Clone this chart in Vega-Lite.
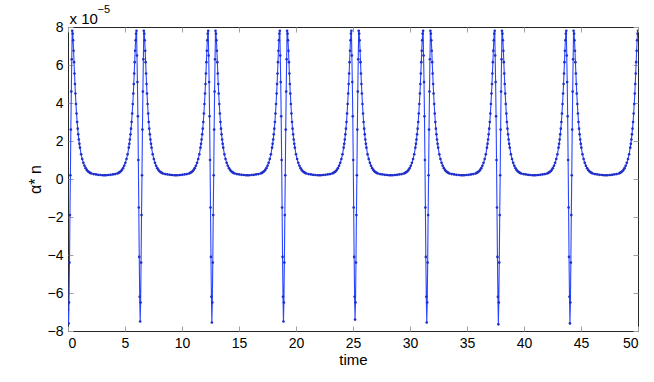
{
"$schema": "https://vega.github.io/schema/vega-lite/v6.json",
"width": 570, "height": 304,
"autosize": "none",
"padding": {"left": 68, "top": 27, "right": 16, "bottom": 51},
"background": "white",
"config": {"view": {"stroke": "#262626", "strokeWidth": 1}, "font": "Liberation Sans"},
"data": {"values": [
{"t":0,"a":-6.9},{"t":0.05,"a":-7.6},{"t":0.09,"a":-6.5},{"t":0.13,"a":-4.4},{"t":0.17,"a":-1.9},{"t":0.21,"a":0.2},{"t":0.25,"a":2.6},{"t":0.29,"a":4.6},{"t":0.33,"a":6.3},{"t":0.37,"a":7.8},{"t":0.41,"a":7.65},{"t":0.45,"a":7.3},{"t":0.49,"a":6.75},{"t":0.53,"a":6.15},{"t":0.57,"a":5.55},{"t":0.61,"a":5.0},{"t":0.65,"a":4.5},{"t":0.70,"a":3.95},{"t":0.75,"a":3.45},{"t":0.80,"a":3.0},{"t":0.85,"a":2.65},{"t":0.90,"a":2.35},{"t":0.95,"a":2.08},{"t":1.00,"a":1.85},{"t":1.05,"a":1.65},{"t":1.15,"a":1.3},{"t":1.25,"a":1.05},{"t":1.35,"a":0.85},{"t":1.45,"a":0.7},{"t":1.55,"a":0.57},{"t":1.65,"a":0.48},{"t":1.75,"a":0.41},{"t":1.85,"a":0.36},{"t":1.95,"a":0.32},{"t":2.05,"a":0.29},{"t":2.25,"a":0.26},{"t":2.45,"a":0.24},{"t":2.65,"a":0.22},{"t":2.85,"a":0.21},{"t":3.05,"a":0.2},{"t":3.19,"a":0.2},
{"t":3.33,"a":0.2},{"t":3.53,"a":0.21},{"t":3.73,"a":0.22},{"t":3.93,"a":0.24},{"t":4.13,"a":0.26},{"t":4.33,"a":0.29},{"t":4.43,"a":0.32},{"t":4.53,"a":0.36},{"t":4.63,"a":0.41},{"t":4.73,"a":0.48},{"t":4.83,"a":0.57},{"t":4.93,"a":0.7},{"t":5.03,"a":0.85},{"t":5.13,"a":1.05},{"t":5.23,"a":1.3},{"t":5.33,"a":1.65},{"t":5.38,"a":1.85},{"t":5.43,"a":2.08},{"t":5.48,"a":2.35},{"t":5.53,"a":2.65},{"t":5.58,"a":3.0},{"t":5.63,"a":3.45},{"t":5.68,"a":3.95},{"t":5.73,"a":4.5},{"t":5.77,"a":5.0},{"t":5.81,"a":5.55},{"t":5.85,"a":6.15},{"t":5.89,"a":6.75},{"t":5.93,"a":7.3},{"t":5.97,"a":7.65},{"t":6.01,"a":7.8},{"t":6.05,"a":6.5},{"t":6.09,"a":5.1},{"t":6.13,"a":3.3},{"t":6.17,"a":1.0},{"t":6.21,"a":-1.5},{"t":6.25,"a":-4.1},{"t":6.29,"a":-6.2},
{"t":6.33,"a":-7.5},{"t":6.37,"a":-6.5},{"t":6.41,"a":-4.4},{"t":6.45,"a":-1.9},{"t":6.49,"a":0.2},{"t":6.53,"a":2.6},{"t":6.57,"a":4.6},{"t":6.61,"a":6.3},{"t":6.65,"a":7.8},{"t":6.69,"a":7.65},{"t":6.73,"a":7.3},{"t":6.77,"a":6.75},{"t":6.81,"a":6.15},{"t":6.85,"a":5.55},{"t":6.89,"a":5.0},{"t":6.93,"a":4.5},{"t":6.98,"a":3.95},{"t":7.03,"a":3.45},{"t":7.08,"a":3.0},{"t":7.13,"a":2.65},{"t":7.18,"a":2.35},{"t":7.23,"a":2.08},{"t":7.28,"a":1.85},{"t":7.33,"a":1.65},{"t":7.43,"a":1.3},{"t":7.53,"a":1.05},{"t":7.63,"a":0.85},{"t":7.73,"a":0.7},{"t":7.83,"a":0.57},{"t":7.93,"a":0.48},{"t":8.03,"a":0.41},{"t":8.13,"a":0.36},{"t":8.23,"a":0.32},{"t":8.33,"a":0.29},{"t":8.53,"a":0.26},{"t":8.73,"a":0.24},{"t":8.93,"a":0.22},{"t":9.13,"a":0.21},{"t":9.33,"a":0.2},{"t":9.47,"a":0.2},
{"t":9.62,"a":0.2},{"t":9.82,"a":0.21},{"t":10.02,"a":0.22},{"t":10.22,"a":0.24},{"t":10.42,"a":0.26},{"t":10.62,"a":0.29},{"t":10.72,"a":0.32},{"t":10.82,"a":0.36},{"t":10.92,"a":0.41},{"t":11.02,"a":0.48},{"t":11.12,"a":0.57},{"t":11.22,"a":0.7},{"t":11.32,"a":0.85},{"t":11.42,"a":1.05},{"t":11.52,"a":1.3},{"t":11.62,"a":1.65},{"t":11.67,"a":1.85},{"t":11.72,"a":2.08},{"t":11.77,"a":2.35},{"t":11.82,"a":2.65},{"t":11.87,"a":3.0},{"t":11.92,"a":3.45},{"t":11.97,"a":3.95},{"t":12.02,"a":4.5},{"t":12.06,"a":5.0},{"t":12.10,"a":5.55},{"t":12.14,"a":6.15},{"t":12.18,"a":6.75},{"t":12.22,"a":7.3},{"t":12.26,"a":7.65},{"t":12.30,"a":7.8},{"t":12.34,"a":6.5},{"t":12.38,"a":5.1},{"t":12.42,"a":3.3},{"t":12.46,"a":1.0},{"t":12.50,"a":-1.5},{"t":12.54,"a":-4.1},{"t":12.58,"a":-6.2},
{"t":12.62,"a":-7.55},{"t":12.66,"a":-6.5},{"t":12.70,"a":-4.4},{"t":12.74,"a":-1.9},{"t":12.78,"a":0.2},{"t":12.82,"a":2.6},{"t":12.86,"a":4.6},{"t":12.90,"a":6.3},{"t":12.94,"a":7.8},{"t":12.98,"a":7.65},{"t":13.02,"a":7.3},{"t":13.06,"a":6.75},{"t":13.10,"a":6.15},{"t":13.14,"a":5.55},{"t":13.18,"a":5.0},{"t":13.22,"a":4.5},{"t":13.27,"a":3.95},{"t":13.32,"a":3.45},{"t":13.37,"a":3.0},{"t":13.42,"a":2.65},{"t":13.47,"a":2.35},{"t":13.52,"a":2.08},{"t":13.57,"a":1.85},{"t":13.62,"a":1.65},{"t":13.72,"a":1.3},{"t":13.82,"a":1.05},{"t":13.92,"a":0.85},{"t":14.02,"a":0.7},{"t":14.12,"a":0.57},{"t":14.22,"a":0.48},{"t":14.32,"a":0.41},{"t":14.42,"a":0.36},{"t":14.52,"a":0.32},{"t":14.62,"a":0.29},{"t":14.82,"a":0.26},{"t":15.02,"a":0.24},{"t":15.22,"a":0.22},{"t":15.42,"a":0.21},{"t":15.62,"a":0.2},{"t":15.76,"a":0.2},
{"t":15.90,"a":0.2},{"t":16.10,"a":0.21},{"t":16.30,"a":0.22},{"t":16.50,"a":0.24},{"t":16.70,"a":0.26},{"t":16.90,"a":0.29},{"t":17.00,"a":0.32},{"t":17.10,"a":0.36},{"t":17.20,"a":0.41},{"t":17.30,"a":0.48},{"t":17.40,"a":0.57},{"t":17.50,"a":0.7},{"t":17.60,"a":0.85},{"t":17.70,"a":1.05},{"t":17.80,"a":1.3},{"t":17.90,"a":1.65},{"t":17.95,"a":1.85},{"t":18.00,"a":2.08},{"t":18.05,"a":2.35},{"t":18.10,"a":2.65},{"t":18.15,"a":3.0},{"t":18.20,"a":3.45},{"t":18.25,"a":3.95},{"t":18.30,"a":4.5},{"t":18.34,"a":5.0},{"t":18.38,"a":5.55},{"t":18.42,"a":6.15},{"t":18.46,"a":6.75},{"t":18.50,"a":7.3},{"t":18.54,"a":7.65},{"t":18.58,"a":7.8},{"t":18.62,"a":6.5},{"t":18.66,"a":5.1},{"t":18.70,"a":3.3},{"t":18.74,"a":1.0},{"t":18.78,"a":-1.5},{"t":18.82,"a":-4.1},{"t":18.86,"a":-6.2},
{"t":18.90,"a":-7.5},{"t":18.94,"a":-6.5},{"t":18.98,"a":-4.4},{"t":19.02,"a":-1.9},{"t":19.06,"a":0.2},{"t":19.10,"a":2.6},{"t":19.14,"a":4.6},{"t":19.18,"a":6.3},{"t":19.22,"a":7.8},{"t":19.26,"a":7.65},{"t":19.30,"a":7.3},{"t":19.34,"a":6.75},{"t":19.38,"a":6.15},{"t":19.42,"a":5.55},{"t":19.46,"a":5.0},{"t":19.50,"a":4.5},{"t":19.55,"a":3.95},{"t":19.60,"a":3.45},{"t":19.65,"a":3.0},{"t":19.70,"a":2.65},{"t":19.75,"a":2.35},{"t":19.80,"a":2.08},{"t":19.85,"a":1.85},{"t":19.90,"a":1.65},{"t":20.00,"a":1.3},{"t":20.10,"a":1.05},{"t":20.20,"a":0.85},{"t":20.30,"a":0.7},{"t":20.40,"a":0.57},{"t":20.50,"a":0.48},{"t":20.60,"a":0.41},{"t":20.70,"a":0.36},{"t":20.80,"a":0.32},{"t":20.90,"a":0.29},{"t":21.10,"a":0.26},{"t":21.30,"a":0.24},{"t":21.50,"a":0.22},{"t":21.70,"a":0.21},{"t":21.90,"a":0.2},{"t":22.04,"a":0.2},
{"t":22.18,"a":0.2},{"t":22.38,"a":0.21},{"t":22.58,"a":0.22},{"t":22.78,"a":0.24},{"t":22.98,"a":0.26},{"t":23.18,"a":0.29},{"t":23.28,"a":0.32},{"t":23.38,"a":0.36},{"t":23.48,"a":0.41},{"t":23.58,"a":0.48},{"t":23.68,"a":0.57},{"t":23.78,"a":0.7},{"t":23.88,"a":0.85},{"t":23.98,"a":1.05},{"t":24.08,"a":1.3},{"t":24.18,"a":1.65},{"t":24.23,"a":1.85},{"t":24.28,"a":2.08},{"t":24.33,"a":2.35},{"t":24.38,"a":2.65},{"t":24.43,"a":3.0},{"t":24.48,"a":3.45},{"t":24.53,"a":3.95},{"t":24.58,"a":4.5},{"t":24.62,"a":5.0},{"t":24.66,"a":5.55},{"t":24.70,"a":6.15},{"t":24.74,"a":6.75},{"t":24.78,"a":7.3},{"t":24.82,"a":7.65},{"t":24.86,"a":7.8},{"t":24.90,"a":6.5},{"t":24.94,"a":5.1},{"t":24.98,"a":3.3},{"t":25.02,"a":1.0},{"t":25.06,"a":-1.5},{"t":25.10,"a":-4.1},{"t":25.14,"a":-6.2},
{"t":25.18,"a":-7.4},{"t":25.22,"a":-6.5},{"t":25.26,"a":-4.4},{"t":25.30,"a":-1.9},{"t":25.34,"a":0.2},{"t":25.38,"a":2.6},{"t":25.42,"a":4.6},{"t":25.46,"a":6.3},{"t":25.50,"a":7.8},{"t":25.54,"a":7.65},{"t":25.58,"a":7.3},{"t":25.62,"a":6.75},{"t":25.66,"a":6.15},{"t":25.70,"a":5.55},{"t":25.74,"a":5.0},{"t":25.78,"a":4.5},{"t":25.83,"a":3.95},{"t":25.88,"a":3.45},{"t":25.93,"a":3.0},{"t":25.98,"a":2.65},{"t":26.03,"a":2.35},{"t":26.08,"a":2.08},{"t":26.13,"a":1.85},{"t":26.18,"a":1.65},{"t":26.28,"a":1.3},{"t":26.38,"a":1.05},{"t":26.48,"a":0.85},{"t":26.58,"a":0.7},{"t":26.68,"a":0.57},{"t":26.78,"a":0.48},{"t":26.88,"a":0.41},{"t":26.98,"a":0.36},{"t":27.08,"a":0.32},{"t":27.18,"a":0.29},{"t":27.38,"a":0.26},{"t":27.58,"a":0.24},{"t":27.78,"a":0.22},{"t":27.98,"a":0.21},{"t":28.18,"a":0.2},{"t":28.32,"a":0.2},
{"t":28.47,"a":0.2},{"t":28.67,"a":0.21},{"t":28.87,"a":0.22},{"t":29.07,"a":0.24},{"t":29.27,"a":0.26},{"t":29.47,"a":0.29},{"t":29.57,"a":0.32},{"t":29.67,"a":0.36},{"t":29.77,"a":0.41},{"t":29.87,"a":0.48},{"t":29.97,"a":0.57},{"t":30.07,"a":0.7},{"t":30.17,"a":0.85},{"t":30.27,"a":1.05},{"t":30.37,"a":1.3},{"t":30.47,"a":1.65},{"t":30.52,"a":1.85},{"t":30.57,"a":2.08},{"t":30.62,"a":2.35},{"t":30.67,"a":2.65},{"t":30.72,"a":3.0},{"t":30.77,"a":3.45},{"t":30.82,"a":3.95},{"t":30.87,"a":4.5},{"t":30.91,"a":5.0},{"t":30.95,"a":5.55},{"t":30.99,"a":6.15},{"t":31.03,"a":6.75},{"t":31.07,"a":7.3},{"t":31.11,"a":7.65},{"t":31.15,"a":7.8},{"t":31.19,"a":6.5},{"t":31.23,"a":5.1},{"t":31.27,"a":3.3},{"t":31.31,"a":1.0},{"t":31.35,"a":-1.5},{"t":31.39,"a":-4.1},{"t":31.43,"a":-6.2},
{"t":31.47,"a":-7.55},{"t":31.51,"a":-6.5},{"t":31.55,"a":-4.4},{"t":31.59,"a":-1.9},{"t":31.63,"a":0.2},{"t":31.67,"a":2.6},{"t":31.71,"a":4.6},{"t":31.75,"a":6.3},{"t":31.79,"a":7.8},{"t":31.83,"a":7.65},{"t":31.87,"a":7.3},{"t":31.91,"a":6.75},{"t":31.95,"a":6.15},{"t":31.99,"a":5.55},{"t":32.03,"a":5.0},{"t":32.07,"a":4.5},{"t":32.12,"a":3.95},{"t":32.17,"a":3.45},{"t":32.22,"a":3.0},{"t":32.27,"a":2.65},{"t":32.32,"a":2.35},{"t":32.37,"a":2.08},{"t":32.42,"a":1.85},{"t":32.47,"a":1.65},{"t":32.57,"a":1.3},{"t":32.67,"a":1.05},{"t":32.77,"a":0.85},{"t":32.87,"a":0.7},{"t":32.97,"a":0.57},{"t":33.07,"a":0.48},{"t":33.17,"a":0.41},{"t":33.27,"a":0.36},{"t":33.37,"a":0.32},{"t":33.47,"a":0.29},{"t":33.67,"a":0.26},{"t":33.87,"a":0.24},{"t":34.07,"a":0.22},{"t":34.27,"a":0.21},{"t":34.47,"a":0.2},{"t":34.61,"a":0.2},
{"t":34.75,"a":0.2},{"t":34.95,"a":0.21},{"t":35.15,"a":0.22},{"t":35.35,"a":0.24},{"t":35.55,"a":0.26},{"t":35.75,"a":0.29},{"t":35.85,"a":0.32},{"t":35.95,"a":0.36},{"t":36.05,"a":0.41},{"t":36.15,"a":0.48},{"t":36.25,"a":0.57},{"t":36.35,"a":0.7},{"t":36.45,"a":0.85},{"t":36.55,"a":1.05},{"t":36.65,"a":1.3},{"t":36.75,"a":1.65},{"t":36.80,"a":1.85},{"t":36.85,"a":2.08},{"t":36.90,"a":2.35},{"t":36.95,"a":2.65},{"t":37.00,"a":3.0},{"t":37.05,"a":3.45},{"t":37.10,"a":3.95},{"t":37.15,"a":4.5},{"t":37.19,"a":5.0},{"t":37.23,"a":5.55},{"t":37.27,"a":6.15},{"t":37.31,"a":6.75},{"t":37.35,"a":7.3},{"t":37.39,"a":7.65},{"t":37.43,"a":7.8},{"t":37.47,"a":6.5},{"t":37.51,"a":5.1},{"t":37.55,"a":3.3},{"t":37.59,"a":1.0},{"t":37.63,"a":-1.5},{"t":37.67,"a":-4.1},{"t":37.71,"a":-6.2},
{"t":37.75,"a":-7.65},{"t":37.79,"a":-6.5},{"t":37.83,"a":-4.4},{"t":37.87,"a":-1.9},{"t":37.91,"a":0.2},{"t":37.95,"a":2.6},{"t":37.99,"a":4.6},{"t":38.03,"a":6.3},{"t":38.07,"a":7.8},{"t":38.11,"a":7.65},{"t":38.15,"a":7.3},{"t":38.19,"a":6.75},{"t":38.23,"a":6.15},{"t":38.27,"a":5.55},{"t":38.31,"a":5.0},{"t":38.35,"a":4.5},{"t":38.40,"a":3.95},{"t":38.45,"a":3.45},{"t":38.50,"a":3.0},{"t":38.55,"a":2.65},{"t":38.60,"a":2.35},{"t":38.65,"a":2.08},{"t":38.70,"a":1.85},{"t":38.75,"a":1.65},{"t":38.85,"a":1.3},{"t":38.95,"a":1.05},{"t":39.05,"a":0.85},{"t":39.15,"a":0.7},{"t":39.25,"a":0.57},{"t":39.35,"a":0.48},{"t":39.45,"a":0.41},{"t":39.55,"a":0.36},{"t":39.65,"a":0.32},{"t":39.75,"a":0.29},{"t":39.95,"a":0.26},{"t":40.15,"a":0.24},{"t":40.35,"a":0.22},{"t":40.55,"a":0.21},{"t":40.75,"a":0.2},{"t":40.89,"a":0.2},
{"t":41.03,"a":0.2},{"t":41.23,"a":0.21},{"t":41.43,"a":0.22},{"t":41.63,"a":0.24},{"t":41.83,"a":0.26},{"t":42.03,"a":0.29},{"t":42.13,"a":0.32},{"t":42.23,"a":0.36},{"t":42.33,"a":0.41},{"t":42.43,"a":0.48},{"t":42.53,"a":0.57},{"t":42.63,"a":0.7},{"t":42.73,"a":0.85},{"t":42.83,"a":1.05},{"t":42.93,"a":1.3},{"t":43.03,"a":1.65},{"t":43.08,"a":1.85},{"t":43.13,"a":2.08},{"t":43.18,"a":2.35},{"t":43.23,"a":2.65},{"t":43.28,"a":3.0},{"t":43.33,"a":3.45},{"t":43.38,"a":3.95},{"t":43.43,"a":4.5},{"t":43.47,"a":5.0},{"t":43.51,"a":5.55},{"t":43.55,"a":6.15},{"t":43.59,"a":6.75},{"t":43.63,"a":7.3},{"t":43.67,"a":7.65},{"t":43.71,"a":7.8},{"t":43.75,"a":6.5},{"t":43.79,"a":5.1},{"t":43.83,"a":3.3},{"t":43.87,"a":1.0},{"t":43.91,"a":-1.5},{"t":43.95,"a":-4.1},{"t":43.99,"a":-6.2},
{"t":44.03,"a":-7.6},{"t":44.07,"a":-6.5},{"t":44.11,"a":-4.4},{"t":44.15,"a":-1.9},{"t":44.19,"a":0.2},{"t":44.23,"a":2.6},{"t":44.27,"a":4.6},{"t":44.31,"a":6.3},{"t":44.35,"a":7.8},{"t":44.39,"a":7.65},{"t":44.43,"a":7.3},{"t":44.47,"a":6.75},{"t":44.51,"a":6.15},{"t":44.55,"a":5.55},{"t":44.59,"a":5.0},{"t":44.63,"a":4.5},{"t":44.68,"a":3.95},{"t":44.73,"a":3.45},{"t":44.78,"a":3.0},{"t":44.83,"a":2.65},{"t":44.88,"a":2.35},{"t":44.93,"a":2.08},{"t":44.98,"a":1.85},{"t":45.03,"a":1.65},{"t":45.13,"a":1.3},{"t":45.23,"a":1.05},{"t":45.33,"a":0.85},{"t":45.43,"a":0.7},{"t":45.53,"a":0.57},{"t":45.63,"a":0.48},{"t":45.73,"a":0.41},{"t":45.83,"a":0.36},{"t":45.93,"a":0.32},{"t":46.03,"a":0.29},{"t":46.23,"a":0.26},{"t":46.43,"a":0.24},{"t":46.63,"a":0.22},{"t":46.83,"a":0.21},{"t":47.03,"a":0.2},{"t":47.17,"a":0.2},
{"t":47.32,"a":0.2},{"t":47.52,"a":0.21},{"t":47.72,"a":0.22},{"t":47.92,"a":0.24},{"t":48.12,"a":0.26},{"t":48.32,"a":0.29},{"t":48.42,"a":0.32},{"t":48.52,"a":0.36},{"t":48.62,"a":0.41},{"t":48.72,"a":0.48},{"t":48.82,"a":0.57},{"t":48.92,"a":0.7},{"t":49.02,"a":0.85},{"t":49.12,"a":1.05},{"t":49.22,"a":1.3},{"t":49.32,"a":1.65},{"t":49.37,"a":1.85},{"t":49.42,"a":2.08},{"t":49.47,"a":2.35},{"t":49.52,"a":2.65},{"t":49.57,"a":3.0},{"t":49.62,"a":3.45},{"t":49.67,"a":3.95},{"t":49.72,"a":4.5},{"t":49.76,"a":5.0},{"t":49.80,"a":5.55},{"t":49.84,"a":6.15},{"t":49.88,"a":6.75},{"t":49.92,"a":7.3},{"t":49.96,"a":7.65},{"t":50.00,"a":7.8}
]},
"layer": [
{"mark": {"type": "line", "color": "#2a45ff", "strokeWidth": 1.1, "clip": true},
 "encoding": {
  "x": {"field": "t", "type": "quantitative", "scale": {"domain": [0, 50], "nice": false, "zero": false},
   "axis": {"orient": "bottom", "values": [0,5,10,15,20,25,30,35,40,45,50], "title": "time", "grid": false, "domain": false,
    "tickSize": -5, "tickColor": "#a0a0a0", "labelFontSize": 14, "labelColor": "black", "labelPadding": 10, "labelFont": "Liberation Sans",
    "titleFontSize": 15, "titleFontWeight": "normal", "titleColor": "black", "titlePadding": 2, "titleFont": "Liberation Sans"}},
  "y": {"field": "a", "type": "quantitative", "scale": {"domain": [-8, 8], "nice": false, "zero": false},
   "axis": {"orient": "left", "values": [-8,-6,-4,-2,0,2,4,6,8], "title": "α* n", "grid": false, "domain": false,
    "labelExpr": "replace(datum.label, '-', '−')",
    "tickSize": -5, "tickColor": "#a0a0a0", "labelFontSize": 14, "labelColor": "black", "labelPadding": 10, "labelFont": "Liberation Sans",
    "titleFontSize": 16, "titleFontWeight": "normal", "titleColor": "black", "titlePadding": 4, "titleFont": "Liberation Sans"}}
 }},
{"mark": {"type": "point", "filled": true, "size": 7, "color": "#1f2fc8", "opacity": 1, "clip": true},
 "encoding": {
  "x": {"field": "t", "type": "quantitative", "scale": {"domain": [0, 50], "nice": false, "zero": false},
   "axis": {"orient": "top", "values": [0,5,10,15,20,25,30,35,40,45,50], "labels": false, "grid": false, "domain": false, "tickSize": -5, "tickColor": "#a0a0a0",
    "title": "x 10", "titleFontSize": 15, "titleFontWeight": "normal", "titleColor": "black", "titleFont": "Liberation Sans", "titleX": 1, "titleY": -4, "titleAlign": "left", "titleAnchor": "start", "titleBaseline": "alphabetic", "titleAngle": 0}},
  "y": {"field": "a", "type": "quantitative", "scale": {"domain": [-8, 8], "nice": false, "zero": false},
   "axis": {"orient": "right", "values": [-8,-6,-4,-2,0,2,4,6,8], "labels": false, "grid": false, "domain": false, "tickSize": -5, "tickColor": "#a0a0a0",
    "title": "−5", "titleFontSize": 11, "titleFontWeight": "normal", "titleColor": "black", "titleFont": "Liberation Sans", "titleX": -541, "titleY": -15, "titleAlign": "left", "titleAnchor": "start", "titleBaseline": "alphabetic", "titleAngle": 0}}
 }}
],
"resolve": {"axis": {"x": "independent", "y": "independent"}}
}
